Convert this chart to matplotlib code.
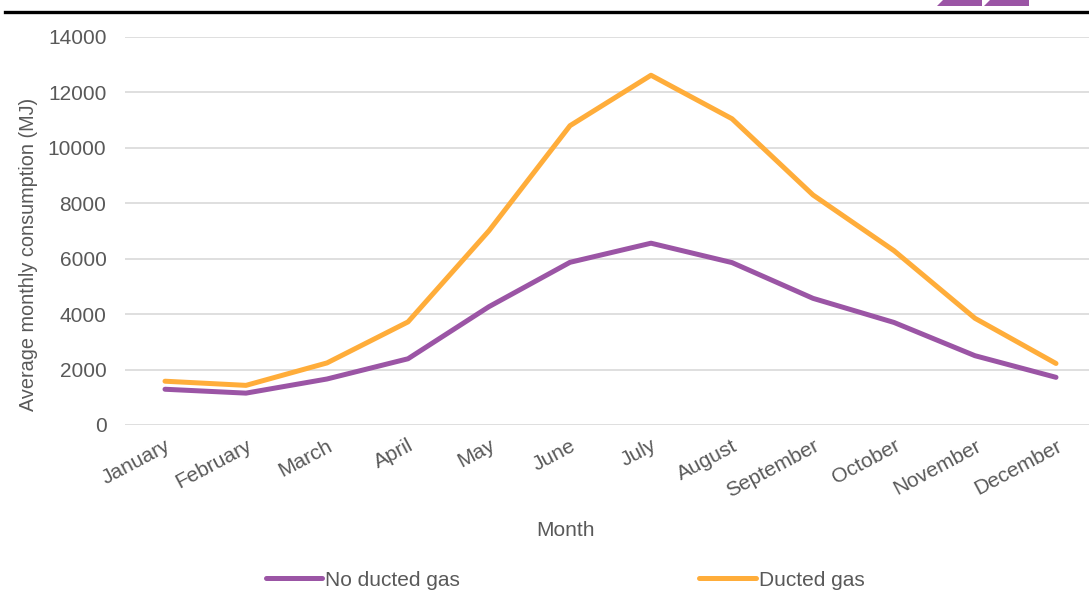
import matplotlib.pyplot as plt
from matplotlib.patches import Polygon
from matplotlib.lines import Line2D

months = ['January', 'February', 'March', 'April', 'May', 'June', 'July',
          'August', 'September', 'October', 'November', 'December']
no_ducted = [1290, 1150, 1660, 2390, 4270, 5870, 6560, 5860, 4570, 3700, 2500, 1720]
ducted = [1580, 1430, 2240, 3720, 7010, 10800, 12620, 11050, 8300, 6290, 3850, 2220]
yticks = [0, 2000, 4000, 6000, 8000, 10000, 12000, 14000]

purple = '#9B55A5'
orange = '#FFAD3A'
grey = '#595959'
fs = 15

plt.rcParams['font.family'] = ['Liberation Sans', 'DejaVu Sans']

W, H = 1089, 595
fig = plt.figure(figsize=(W / 100, H / 100), dpi=100)
ax = fig.add_axes([124.5 / W, 1 - 425 / H, 972 / W, 388 / H])

x = range(len(months))
ax.plot(x, no_ducted, color=purple, lw=3.6, solid_capstyle='round',
        solid_joinstyle='round', label='No ducted gas')
ax.plot(x, ducted, color=orange, lw=3.6, solid_capstyle='round',
        solid_joinstyle='round', label='Ducted gas')

ax.set_xlim(-0.5, len(months) - 0.5)
ax.set_ylim(0, 14000)
ax.set_yticks(yticks)
ax.set_yticklabels([str(v) for v in yticks], fontsize=fs, color=grey)
ax.set_xticks(list(x))
ax.set_xticklabels(months, fontsize=fs, color=grey, rotation=28,
                   ha='right', va='top', rotation_mode='anchor')
ax.tick_params(length=0, axis='y', pad=13)
ax.tick_params(length=0, axis='x', pad=8)
ax.grid(axis='y', color='#D9D9D9', lw=1.2)
ax.set_axisbelow(True)
for s in ax.spines.values():
    s.set_visible(False)

ax.set_ylabel('Average monthly consumption (MJ)', fontsize=14.3, color=grey)
ax.yaxis.set_label_coords(-86 / 972, 0.44)
ax.set_xlabel('Month', fontsize=fs, color=grey)
ax.xaxis.set_label_coords((565 - 124.5) / 972, -96 / 388)

fig.legend(loc='center', bbox_to_anchor=(565 / W, 1 - 580 / H), ncol=2,
           frameon=False, fontsize=fs, labelcolor=grey, handlelength=2.7,
           handletextpad=0.15, columnspacing=11.5)

# top rule and cropped logo
fig.add_artist(Line2D([5 / W, 1], [1 - 11.5 / H, 1 - 11.5 / H],
                      transform=fig.transFigure, color='black', lw=2.4))
for pts in ([(937, 6), (943, 0), (982, 0), (982, 6)],
            [(984, 6), (990, 0), (1029, 0), (1029, 6)]):
    fig.add_artist(Polygon([(px / W, 1 - py / H) for px, py in pts],
                           closed=True, transform=fig.transFigure,
                           color=purple, lw=0))

fig.savefig('out.png', dpi=100)
